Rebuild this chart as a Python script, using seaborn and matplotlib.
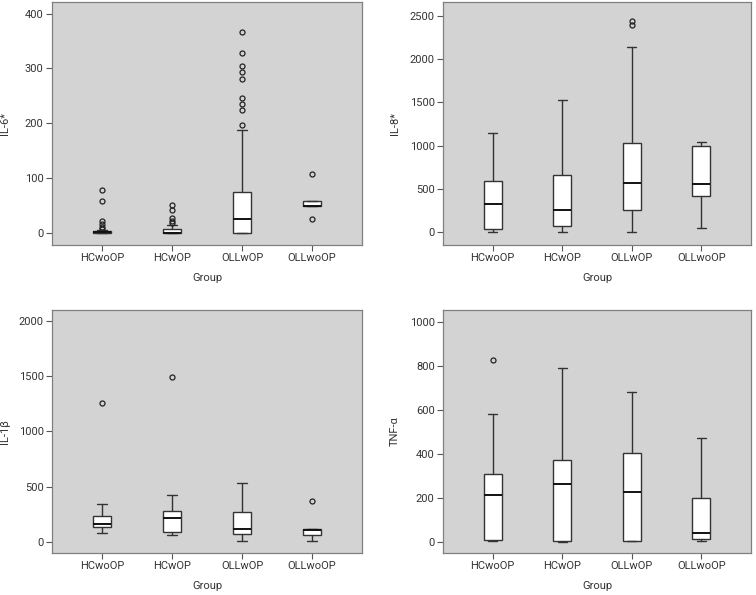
import matplotlib
matplotlib.use("Agg")
import matplotlib.pyplot as plt
import seaborn as sns

sns.set_style("ticks")
plt.rcParams['font.family'] = ['Roboto', 'DejaVu Sans']

groups = ["HCwoOP", "HCwOP", "OLLwOP", "OLLwoOP"]

# IL-6*
il6_q1 = [0, 0, 0, 49]
il6_med = [1, 0.5, 25, 50]
il6_q3 = [4, 7, 75, 58]
il6_lo = [0, 0, -1, 49]
il6_hi = [6, 15, 188, 58]
il6_out = [[78, 59, 22, 16, 11, 8], [51, 42, 28, 21, 18],
           [367, 328, 305, 294, 280, 246, 235, 225, 196], [108, 25]]

# IL-8*
il8_q1 = [35, 66, 255, 417]
il8_med = [321, 251, 568, 560]
il8_q3 = [587, 657, 1028, 997]
il8_lo = [0, 0, 0, 42]
il8_hi = [1140, 1530, 2137, 1039]
il8_out = [[], [], [2446, 2400], []]

# IL-1beta
il1_q1 = [139, 90, 76, 61]
il1_med = [166, 212, 115, 109]
il1_q3 = [235, 284, 272, 115]
il1_lo = [82, 61, 4, 6]
il1_hi = [341, 423, 537, 115]
il1_out = [[1255], [1490], [], [371]]

# TNF-alpha
tnf_q1 = [11, 4, 6, 15]
tnf_med = [214, 265, 229, 42]
tnf_q3 = [309, 371, 406, 201]
tnf_lo = [6, 1, 4, 6]
tnf_hi = [579, 792, 683, 473]
tnf_out = [[826], [], [], []]

panels = [
    ("IL-6*", il6_q1, il6_med, il6_q3, il6_lo, il6_hi, il6_out, (-22, 421), [0, 100, 200, 300, 400]),
    ("IL-8*", il8_q1, il8_med, il8_q3, il8_lo, il8_hi, il8_out, (-151, 2662), [0, 500, 1000, 1500, 2000, 2500]),
    ("IL-1β", il1_q1, il1_med, il1_q3, il1_lo, il1_hi, il1_out, (-100, 2097), [0, 500, 1000, 1500, 2000]),
    ("TNF-α", tnf_q1, tnf_med, tnf_q3, tnf_lo, tnf_hi, tnf_out, (-50, 1053), [0, 200, 400, 600, 800, 1000]),
]

fig = plt.figure(figsize=(7.56, 5.95), dpi=100)
W, H = 756, 595
rects = [(52, 2, 362, 245), (443, 2, 751, 245), (52, 310, 362, 553), (443, 310, 751, 553)]
ylab_x = [-0.135, -0.14, -0.135, -0.14]

for k, ((label, q1, med, q3, lo, hi, out, ylim, yticks), (x0, y0, x1, y1)) in enumerate(zip(panels, rects)):
    ax = fig.add_axes([x0 / W, 1 - y1 / H, (x1 - x0) / W, (y1 - y0) / H])
    ax.set_facecolor("#d3d3d3")
    stats = []
    for i, g in enumerate(groups):
        stats.append(dict(label=g, q1=q1[i], med=med[i], q3=q3[i],
                          whislo=lo[i], whishi=hi[i], fliers=out[i]))
    ax.bxp(stats, positions=range(4), widths=0.26, capwidths=0.13,
           patch_artist=True, showfliers=True,
           boxprops=dict(facecolor="white", edgecolor="#333333", linewidth=1.0),
           medianprops=dict(color="#111111", linewidth=1.4),
           whiskerprops=dict(color="#333333", linewidth=1.0),
           capprops=dict(color="#333333", linewidth=1.0),
           flierprops=dict(marker="o", markersize=3.6, markerfacecolor="none",
                           markeredgecolor="#222222", markeredgewidth=0.9))
    ax.set_xlim(-0.714, 3.714)
    ax.set_ylim(*ylim)
    ax.set_yticks(yticks)
    ax.set_xticks(range(4))
    ax.set_xticklabels(groups)
    ax.set_xlabel("Group", fontsize=8, color="#333333")
    ax.set_ylabel(label, fontsize=8, color="#333333")
    ax.xaxis.set_label_coords(0.5, -0.115)
    ax.yaxis.set_label_coords(ylab_x[k], 0.5)
    ax.tick_params(axis="both", labelsize=8, colors="#555555", labelcolor="#333333",
                   length=4, width=0.8, direction="out", pad=2)
    for s in ax.spines.values():
        s.set_color("#808080")
        s.set_linewidth(0.9)

fig.savefig("out.png", dpi=100)
